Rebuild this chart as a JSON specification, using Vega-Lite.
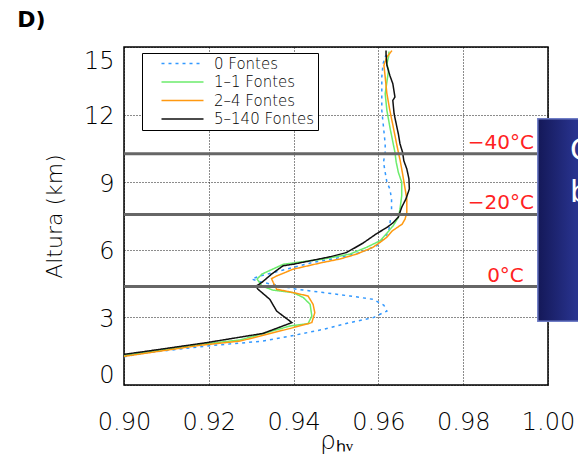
{
  "$schema": "https://vega.github.io/schema/vega-lite/v6.json",
  "autosize": "none",
  "width": 424,
  "height": 338,
  "padding": {"left": 124, "top": 47, "right": 30, "bottom": 70},
  "datasets": {
    "perfis": [
      {"serie": "0 Fontes", "rho": 0.9000, "alt": 1.25},
      {"serie": "0 Fontes", "rho": 0.9054, "alt": 1.43},
      {"serie": "0 Fontes", "rho": 0.9195, "alt": 1.73},
      {"serie": "0 Fontes", "rho": 0.9328, "alt": 1.95},
      {"serie": "0 Fontes", "rho": 0.9392, "alt": 2.17},
      {"serie": "0 Fontes", "rho": 0.9470, "alt": 2.47},
      {"serie": "0 Fontes", "rho": 0.9533, "alt": 2.77},
      {"serie": "0 Fontes", "rho": 0.9588, "alt": 2.99},
      {"serie": "0 Fontes", "rho": 0.9604, "alt": 3.14},
      {"serie": "0 Fontes", "rho": 0.9620, "alt": 3.28},
      {"serie": "0 Fontes", "rho": 0.9613, "alt": 3.54},
      {"serie": "0 Fontes", "rho": 0.9588, "alt": 3.80},
      {"serie": "0 Fontes", "rho": 0.9533, "alt": 3.95},
      {"serie": "0 Fontes", "rho": 0.9470, "alt": 4.10},
      {"serie": "0 Fontes", "rho": 0.9407, "alt": 4.25},
      {"serie": "0 Fontes", "rho": 0.9360, "alt": 4.43},
      {"serie": "0 Fontes", "rho": 0.9325, "alt": 4.56},
      {"serie": "0 Fontes", "rho": 0.9301, "alt": 4.70},
      {"serie": "0 Fontes", "rho": 0.9321, "alt": 4.84},
      {"serie": "0 Fontes", "rho": 0.9352, "alt": 4.99},
      {"serie": "0 Fontes", "rho": 0.9399, "alt": 5.22},
      {"serie": "0 Fontes", "rho": 0.9446, "alt": 5.44},
      {"serie": "0 Fontes", "rho": 0.9509, "alt": 5.66},
      {"serie": "0 Fontes", "rho": 0.9557, "alt": 5.88},
      {"serie": "0 Fontes", "rho": 0.9596, "alt": 6.18},
      {"serie": "0 Fontes", "rho": 0.9612, "alt": 6.48},
      {"serie": "0 Fontes", "rho": 0.9624, "alt": 6.79},
      {"serie": "0 Fontes", "rho": 0.9627, "alt": 7.14},
      {"serie": "0 Fontes", "rho": 0.9631, "alt": 7.72},
      {"serie": "0 Fontes", "rho": 0.9631, "alt": 8.26},
      {"serie": "0 Fontes", "rho": 0.9627, "alt": 8.70},
      {"serie": "0 Fontes", "rho": 0.9620, "alt": 9.00},
      {"serie": "0 Fontes", "rho": 0.9616, "alt": 9.44},
      {"serie": "0 Fontes", "rho": 0.9612, "alt": 9.89},
      {"serie": "0 Fontes", "rho": 0.9616, "alt": 10.33},
      {"serie": "0 Fontes", "rho": 0.9616, "alt": 10.70},
      {"serie": "0 Fontes", "rho": 0.9612, "alt": 11.45},
      {"serie": "0 Fontes", "rho": 0.9608, "alt": 12.19},
      {"serie": "0 Fontes", "rho": 0.9608, "alt": 12.93},
      {"serie": "0 Fontes", "rho": 0.9608, "alt": 13.67},
      {"serie": "0 Fontes", "rho": 0.9611, "alt": 14.26},
      {"serie": "0 Fontes", "rho": 0.9618, "alt": 14.66},

      {"serie": "1–1 Fontes", "rho": 0.9000, "alt": 1.31},
      {"serie": "1–1 Fontes", "rho": 0.9179, "alt": 1.80},
      {"serie": "1–1 Fontes", "rho": 0.9274, "alt": 2.00},
      {"serie": "1–1 Fontes", "rho": 0.9392, "alt": 2.62},
      {"serie": "1–1 Fontes", "rho": 0.9434, "alt": 2.72},
      {"serie": "1–1 Fontes", "rho": 0.9443, "alt": 3.06},
      {"serie": "1–1 Fontes", "rho": 0.9439, "alt": 3.58},
      {"serie": "1–1 Fontes", "rho": 0.9423, "alt": 3.88},
      {"serie": "1–1 Fontes", "rho": 0.9399, "alt": 4.10},
      {"serie": "1–1 Fontes", "rho": 0.9351, "alt": 4.21},
      {"serie": "1–1 Fontes", "rho": 0.9325, "alt": 4.40},
      {"serie": "1–1 Fontes", "rho": 0.9314, "alt": 4.70},
      {"serie": "1–1 Fontes", "rho": 0.9325, "alt": 4.92},
      {"serie": "1–1 Fontes", "rho": 0.9376, "alt": 5.36},
      {"serie": "1–1 Fontes", "rho": 0.9470, "alt": 5.59},
      {"serie": "1–1 Fontes", "rho": 0.9533, "alt": 5.81},
      {"serie": "1–1 Fontes", "rho": 0.9572, "alt": 6.11},
      {"serie": "1–1 Fontes", "rho": 0.9604, "alt": 6.40},
      {"serie": "1–1 Fontes", "rho": 0.9620, "alt": 6.74},
      {"serie": "1–1 Fontes", "rho": 0.9635, "alt": 7.07},
      {"serie": "1–1 Fontes", "rho": 0.9647, "alt": 7.44},
      {"serie": "1–1 Fontes", "rho": 0.9651, "alt": 7.81},
      {"serie": "1–1 Fontes", "rho": 0.9655, "alt": 8.40},
      {"serie": "1–1 Fontes", "rho": 0.9655, "alt": 9.00},
      {"serie": "1–1 Fontes", "rho": 0.9647, "alt": 9.44},
      {"serie": "1–1 Fontes", "rho": 0.9642, "alt": 9.89},
      {"serie": "1–1 Fontes", "rho": 0.9639, "alt": 10.33},
      {"serie": "1–1 Fontes", "rho": 0.9635, "alt": 10.70},
      {"serie": "1–1 Fontes", "rho": 0.9627, "alt": 11.45},
      {"serie": "1–1 Fontes", "rho": 0.9620, "alt": 12.19},
      {"serie": "1–1 Fontes", "rho": 0.9616, "alt": 12.93},
      {"serie": "1–1 Fontes", "rho": 0.9624, "alt": 13.97},
      {"serie": "1–1 Fontes", "rho": 0.9620, "alt": 14.26},
      {"serie": "1–1 Fontes", "rho": 0.9624, "alt": 14.56},
      {"serie": "1–1 Fontes", "rho": 0.9625, "alt": 14.80},

      {"serie": "2–4 Fontes", "rho": 0.9000, "alt": 1.27},
      {"serie": "2–4 Fontes", "rho": 0.9179, "alt": 1.76},
      {"serie": "2–4 Fontes", "rho": 0.9274, "alt": 1.95},
      {"serie": "2–4 Fontes", "rho": 0.9392, "alt": 2.51},
      {"serie": "2–4 Fontes", "rho": 0.9443, "alt": 2.77},
      {"serie": "2–4 Fontes", "rho": 0.9450, "alt": 3.21},
      {"serie": "2–4 Fontes", "rho": 0.9446, "alt": 3.58},
      {"serie": "2–4 Fontes", "rho": 0.9434, "alt": 3.95},
      {"serie": "2–4 Fontes", "rho": 0.9392, "alt": 4.13},
      {"serie": "2–4 Fontes", "rho": 0.9360, "alt": 4.25},
      {"serie": "2–4 Fontes", "rho": 0.9352, "alt": 4.55},
      {"serie": "2–4 Fontes", "rho": 0.9348, "alt": 4.72},
      {"serie": "2–4 Fontes", "rho": 0.9360, "alt": 4.84},
      {"serie": "2–4 Fontes", "rho": 0.9399, "alt": 5.14},
      {"serie": "2–4 Fontes", "rho": 0.9469, "alt": 5.44},
      {"serie": "2–4 Fontes", "rho": 0.9509, "alt": 5.59},
      {"serie": "2–4 Fontes", "rho": 0.9549, "alt": 5.81},
      {"serie": "2–4 Fontes", "rho": 0.9587, "alt": 6.11},
      {"serie": "2–4 Fontes", "rho": 0.9604, "alt": 6.33},
      {"serie": "2–4 Fontes", "rho": 0.9620, "alt": 6.56},
      {"serie": "2–4 Fontes", "rho": 0.9632, "alt": 6.83},
      {"serie": "2–4 Fontes", "rho": 0.9646, "alt": 7.01},
      {"serie": "2–4 Fontes", "rho": 0.9656, "alt": 7.14},
      {"serie": "2–4 Fontes", "rho": 0.9663, "alt": 7.37},
      {"serie": "2–4 Fontes", "rho": 0.9667, "alt": 7.66},
      {"serie": "2–4 Fontes", "rho": 0.9667, "alt": 8.26},
      {"serie": "2–4 Fontes", "rho": 0.9663, "alt": 8.70},
      {"serie": "2–4 Fontes", "rho": 0.9659, "alt": 9.15},
      {"serie": "2–4 Fontes", "rho": 0.9655, "alt": 9.59},
      {"serie": "2–4 Fontes", "rho": 0.9651, "alt": 9.99},
      {"serie": "2–4 Fontes", "rho": 0.9647, "alt": 10.33},
      {"serie": "2–4 Fontes", "rho": 0.9643, "alt": 10.70},
      {"serie": "2–4 Fontes", "rho": 0.9635, "alt": 11.45},
      {"serie": "2–4 Fontes", "rho": 0.9627, "alt": 12.19},
      {"serie": "2–4 Fontes", "rho": 0.9620, "alt": 12.93},
      {"serie": "2–4 Fontes", "rho": 0.9616, "alt": 13.67},
      {"serie": "2–4 Fontes", "rho": 0.9613, "alt": 14.19},
      {"serie": "2–4 Fontes", "rho": 0.9620, "alt": 14.56},
      {"serie": "2–4 Fontes", "rho": 0.9632, "alt": 14.84},

      {"serie": "5–140 Fontes", "rho": 0.9000, "alt": 1.36},
      {"serie": "5–140 Fontes", "rho": 0.9054, "alt": 1.50},
      {"serie": "5–140 Fontes", "rho": 0.9195, "alt": 1.88},
      {"serie": "5–140 Fontes", "rho": 0.9328, "alt": 2.29},
      {"serie": "5–140 Fontes", "rho": 0.9396, "alt": 2.77},
      {"serie": "5–140 Fontes", "rho": 0.9360, "alt": 3.28},
      {"serie": "5–140 Fontes", "rho": 0.9344, "alt": 3.80},
      {"serie": "5–140 Fontes", "rho": 0.9316, "alt": 4.25},
      {"serie": "5–140 Fontes", "rho": 0.9311, "alt": 4.38},
      {"serie": "5–140 Fontes", "rho": 0.9325, "alt": 4.55},
      {"serie": "5–140 Fontes", "rho": 0.9348, "alt": 4.92},
      {"serie": "5–140 Fontes", "rho": 0.9375, "alt": 5.29},
      {"serie": "5–140 Fontes", "rho": 0.9399, "alt": 5.36},
      {"serie": "5–140 Fontes", "rho": 0.9486, "alt": 5.69},
      {"serie": "5–140 Fontes", "rho": 0.9525, "alt": 5.88},
      {"serie": "5–140 Fontes", "rho": 0.9564, "alt": 6.30},
      {"serie": "5–140 Fontes", "rho": 0.9596, "alt": 6.72},
      {"serie": "5–140 Fontes", "rho": 0.9620, "alt": 6.99},
      {"serie": "5–140 Fontes", "rho": 0.9634, "alt": 7.19},
      {"serie": "5–140 Fontes", "rho": 0.9647, "alt": 7.45},
      {"serie": "5–140 Fontes", "rho": 0.9655, "alt": 7.89},
      {"serie": "5–140 Fontes", "rho": 0.9665, "alt": 8.26},
      {"serie": "5–140 Fontes", "rho": 0.9673, "alt": 8.70},
      {"serie": "5–140 Fontes", "rho": 0.9672, "alt": 9.15},
      {"serie": "5–140 Fontes", "rho": 0.9667, "alt": 9.59},
      {"serie": "5–140 Fontes", "rho": 0.9660, "alt": 9.95},
      {"serie": "5–140 Fontes", "rho": 0.9657, "alt": 10.33},
      {"serie": "5–140 Fontes", "rho": 0.9651, "alt": 10.70},
      {"serie": "5–140 Fontes", "rho": 0.9647, "alt": 11.15},
      {"serie": "5–140 Fontes", "rho": 0.9643, "alt": 11.50},
      {"serie": "5–140 Fontes", "rho": 0.9637, "alt": 12.04},
      {"serie": "5–140 Fontes", "rho": 0.9634, "alt": 12.63},
      {"serie": "5–140 Fontes", "rho": 0.9639, "alt": 12.78},
      {"serie": "5–140 Fontes", "rho": 0.9634, "alt": 13.37},
      {"serie": "5–140 Fontes", "rho": 0.9627, "alt": 13.74},
      {"serie": "5–140 Fontes", "rho": 0.9620, "alt": 14.19},
      {"serie": "5–140 Fontes", "rho": 0.9618, "alt": 14.71},
      {"serie": "5–140 Fontes", "rho": 0.9618, "alt": 14.84}
    ],
    "isotermas": [
      {"alt": 10.26, "rotulo": "−40°C"},
      {"alt": 7.57, "rotulo": "−20°C"},
      {"alt": 4.37, "rotulo": "0°C"}
    ]
  },
  "layer": [
    {
      "data": {"name": "perfis"},
      "mark": {"type": "line", "strokeWidth": 1.5, "clip": true},
      "encoding": {
        "x": {
          "field": "rho", "type": "quantitative",
          "scale": {"domain": [0.9, 1.0], "nice": false, "zero": false},
          "axis": {
            "values": [0.9, 0.92, 0.94, 0.96, 0.98, 1.0],
            "format": ".2f",
            "labelFlush": false,
            "labelPadding": 25,
            "labelFontSize": 24,
            "title": "ρₕᵥ",
            "titleFontSize": 25,
            "titleY": 63,
            "titleBaseline": "alphabetic"
          }
        },
        "y": {
          "field": "alt", "type": "quantitative",
          "scale": {"domain": [0, 15], "nice": false},
          "axis": {
            "values": [0, 3, 6, 9, 12, 15],
            "labelPadding": 10,
            "labelFontSize": 24,
            "labelFlush": true,
            "labelOffset": 2,
            "title": "Altura (km)",
            "titleFontSize": 22,
            "titleAngle": -90,
            "titleX": -63,
            "titleY": 169,
            "titleAlign": "center",
            "titleBaseline": "alphabetic"
          }
        },
        "order": {"field": "alt", "type": "quantitative"},
        "color": {
          "field": "serie", "type": "nominal", "title": null,
          "scale": {
            "domain": ["0 Fontes", "1–1 Fontes", "2–4 Fontes", "5–140 Fontes"],
            "range": ["#3399ff", "#6cec6c", "#ff9910", "#111111"]
          }
        },
        "strokeDash": {
          "field": "serie", "type": "nominal", "title": null,
          "scale": {
            "domain": ["0 Fontes", "1–1 Fontes", "2–4 Fontes", "5–140 Fontes"],
            "range": [[3, 4], [1, 0], [1, 0], [1, 0]]
          }
        }
      }
    },
    {
      "data": {"name": "isotermas"},
      "mark": {"type": "rule", "color": "#666666", "strokeWidth": 3},
      "encoding": {
        "y": {"field": "alt", "type": "quantitative"}
      }
    },
    {
      "data": {"name": "isotermas"},
      "transform": [{"filter": "datum.alt > 6"}],
      "mark": {"type": "text", "align": "right", "baseline": "middle", "dy": -11, "fontSize": 20, "fontWeight": "normal", "color": "#ff2222"},
      "encoding": {
        "x": {"datum": 0.9967},
        "y": {"field": "alt", "type": "quantitative"},
        "text": {"field": "rotulo"}
      }
    },
    {
      "data": {"name": "isotermas"},
      "transform": [{"filter": "datum.alt < 6"}],
      "mark": {"type": "text", "align": "right", "baseline": "middle", "dy": -11, "fontSize": 20, "fontWeight": "normal", "color": "#ff2222"},
      "encoding": {
        "x": {"datum": 0.9943},
        "y": {"field": "alt", "type": "quantitative"},
        "text": {"field": "rotulo"}
      }
    },
    {
      "data": {"values": [{}]},
      "mark": {
        "type": "rect",
        "stroke": "#6f7dc6",
        "strokeWidth": 1.5,
        "fill": {
          "gradient": "linear", "x1": 0, "y1": 0, "x2": 1, "y2": 0,
          "stops": [
            {"offset": 0, "color": "#141858"},
            {"offset": 0.4, "color": "#28338e"},
            {"offset": 1, "color": "#2a3592"}
          ]
        }
      },
      "encoding": {
        "x": {"datum": 0.9976},
        "x2": {"datum": 1.02},
        "y": {"datum": 11.82},
        "y2": {"datum": 2.83}
      }
    },
    {
      "data": {"values": [{"t": "C", "linha": 1}, {"t": "b", "linha": 2}]},
      "mark": {"type": "text", "align": "left", "baseline": "middle", "fontSize": 30, "color": "white"},
      "encoding": {
        "x": {"datum": 1.0052},
        "y": {"datum": 9.3},
        "yOffset": {"field": "linha", "type": "quantitative", "scale": {"domain": [1, 2], "range": [-24, 18]}},
        "text": {"field": "t"}
      }
    },
    {
      "data": {"values": [{}]},
      "mark": {"type": "text", "align": "left", "baseline": "alphabetic", "fontSize": 22, "fontWeight": "bold", "text": "D)"},
      "encoding": {
        "x": {"datum": 0.8748},
        "y": {"datum": 15.87}
      }
    }
  ],
  "config": {
    "font": "DejaVu Sans",
    "view": {"stroke": "#000000", "strokeWidth": 1.5},
    "axis": {
      "domain": false,
      "ticks": false,
      "grid": true,
      "gridColor": "#000000",
      "gridDash": [1, 2],
      "gridWidth": 1,
      "gridOpacity": 0.9,
      "labelColor": "#000000",
      "labelFontWeight": 200,
      "titleColor": "#000000",
      "titleFontWeight": 200
    },
    "legend": {
      "orient": "none",
      "legendX": 18,
      "legendY": 6,
      "fillColor": "#ffffff",
      "strokeColor": "#000000",
      "padding": 3,
      "symbolType": "M-4.2,0H4.2",
      "symbolSize": 100,
      "symbolStrokeWidth": 1.5,
      "symbolOffset": 30,
      "labelOffset": 24,
      "labelFontSize": 15,
      "labelFontWeight": 200,
      "labelColor": "#000000",
      "rowPadding": 2.5
    }
  }
}
